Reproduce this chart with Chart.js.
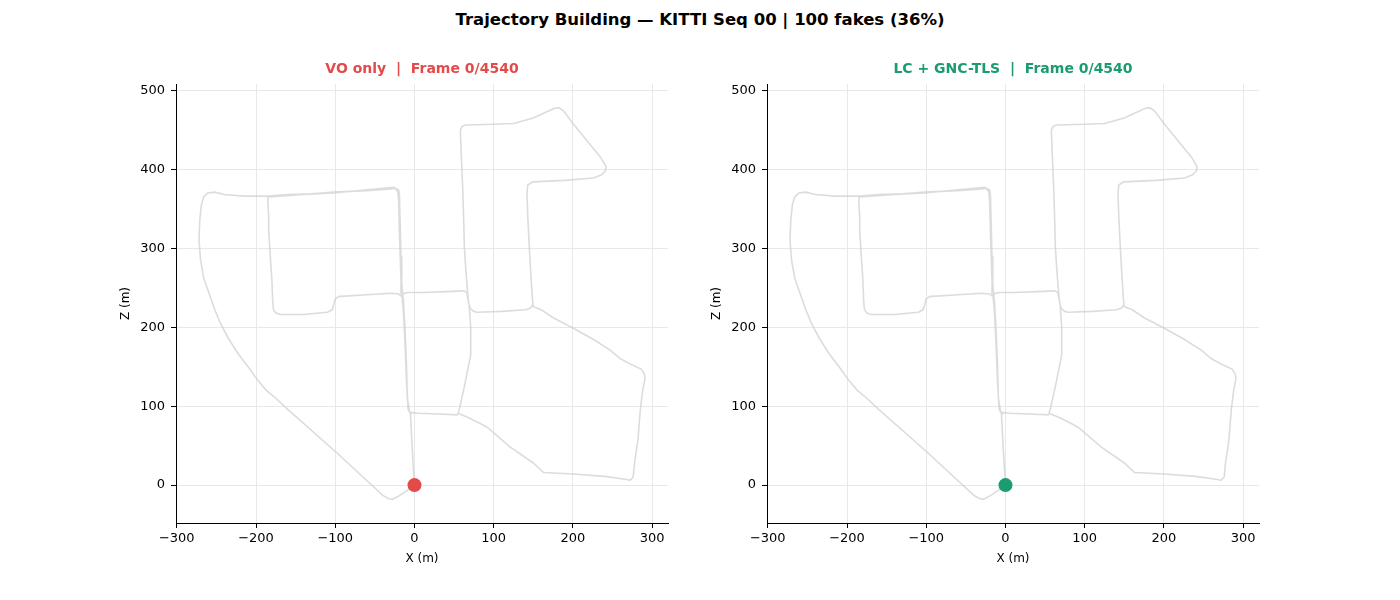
<!DOCTYPE html>
<html>
<head>
<meta charset="utf-8">
<script src="https://cdn.jsdelivr.net/npm/chart.js@4.4.0/dist/chart.umd.min.js"></script>
<style>
  body { margin: 0; background: #fff; width: 1400px; height: 600px; position: relative; overflow: hidden; }
  #sup { position: absolute; top: 10px; left: 0; width: 1400px; text-align: center;
         font: bold 16.5px "DejaVu Sans", sans-serif; color: #000; }
  canvas { position: absolute; top: 50px; }
  #c1 { left: 100px; }
  #c2 { left: 691px; }
</style>
</head>
<body>
<div id="sup">Trajectory Building — KITTI Seq 00 | 100 fakes (36%)</div>
<canvas id="c1" width="644" height="530"></canvas>
<canvas id="c2" width="644" height="530"></canvas>
<script>
const tramoInicio = [[55,89],[30,90],[5,91],[-4,92],[-5,88],[-3,50],[-1,15],[0,0]];
const tramoArco = [[-8,-6],[-20,-14],[-28,-18],[-33,-17],[-40,-13],[-97,40],[-160,96],[-175,110],
  [-187,120],[-198,133],[-210,150],[-223,167],[-235,186],[-245,205],[-252,222],[-260,245],[-266,262],
  [-270,285],[-272,310],[-271,335],[-269,355],[-266,365],[-261,370],[-252,371]];
const tramoNorte = [[-240,368],[-215,366],[-198,366],[-185,366],[-160,368],[-130,369],[-102,371],
  [-60,373],[-30,375],[-24,376],[-20,374],[-19,368],[-18,330],[-17,290],[-16,255],[-15,242],
  [-14,235],[-12,200],[-10,150],[-9,110],[-7,98],[-6,92],[-8,96],[-10,130],[-12,180],[-14,220],
  [-16,243],[-17,260],[-19,320],[-20,360],[-21,372],[-26,377],[-60,374],[-102,370],[-140,368],[-185,365]];
const tramoCajaIzq = [[-185,358],[-184,340],[-184,323],[-182,290],[-180,260],[-179,234],[-178,222],
  [-175,218],[-169,216],[-140,216],[-110,219],[-104,222],[-102,228],[-100,236],[-95,239],[-93,239],
  [-60,241],[-30,243],[-20,242],[-16,239],[-13,243],[-8,244],[10,244],[40,245],[62,246],[66,244],[67,238]];
const tramoSur = [[69,228],[71,200],[71,165],[63,125],[57,98],[55,91],[67,86],[83,78],[92,73],[121,48],
  [150,28],[163,16],[200,14],[240,11],[268,7],[272,6],[276,10],[278,30],[282,57],[285,95],[288,120],
  [291,135],[290,141],[286,147],[275,152],[260,160],[247,171],[225,185],[200,199],[175,212],[160,222],
  [155,224],[150,226]];
const tramoEste = [[149,234],[147,265],[145,300],[143,340],[142,370],[143,380],[149,384],[190,386],
  [226,389],[236,393],[241,398],[242,403],[238,410],[235,415],[200,458],[188,474],[182,478],[176,477],
  [165,472],[150,465],[125,458],[100,457],[64,456],[60,454],[58,450],[58,446],[59,420],[61,373],
  [62,340],[63,301],[65,270],[67,245],[68,235],[69,228],[71,223],[75,220],[79,219],[110,220],[140,222],
  [146,224],[149,228]];

const trayectoria = [].concat(tramoInicio, tramoArco, tramoNorte, tramoCajaIzq, tramoSur, tramoEste);
const posicionActual = [[0, 0]];

const limitesX = [-301, 320];
const limitesZ = [-48, 508];
const pasoTicks = 100;

const paneles = [
  { id: 'c1', titulo: 'VO only  |  Frame 0/4540', color: '#e34a4a' },
  { id: 'c2', titulo: 'LC + GNC-TLS  |  Frame 0/4540', color: '#1b9c6f' }
];

const fuente = '"DejaVu Sans", sans-serif';
const menos = v => String(v).replace('-', '\u2212');

function crearPanel(panel) {
  const ctx = document.getElementById(panel.id).getContext('2d');
  return new Chart(ctx, {
    type: 'scatter',
    data: {
      datasets: [
        {
          data: posicionActual.map(p => ({ x: p[0], y: p[1] })),
          backgroundColor: panel.color, borderWidth: 0, pointRadius: 7, order: 0
        },
        {
          data: trayectoria.map(p => ({ x: p[0], y: p[1] })),
          showLine: true, borderColor: 'rgba(205,205,205,0.7)', borderWidth: 1.6,
          pointRadius: 0, tension: 0, order: 1
        }
      ]
    },
    options: {
      responsive: false,
      animation: false,
      events: [],
      layout: { padding: { left: 0, right: 76, top: 0, bottom: 0 } },
      plugins: {
        legend: { display: false },
        tooltip: { enabled: false },
        title: {
          display: true, text: panel.titulo, color: panel.color, fullSize: false,
          font: { family: fuente, size: 14, weight: 'bold' },
          padding: { top: 11, bottom: 6.2 }
        }
      },
      scales: {
        x: {
          type: 'linear', min: limitesX[0], max: limitesX[1],
          afterFit: s => { s.height = 57; },
          ticks: { stepSize: pasoTicks, includeBounds: false, callback: menos, color: '#000',
                   font: { family: fuente, size: 13 }, padding: 3, maxRotation: 0 },
          grid: { color: '#e8e8e8', lineWidth: 1, tickColor: '#000', tickLength: 5 },
          border: { color: '#000', width: 1 },
          title: { display: true, text: 'X (m)', color: '#000', font: { family: fuente, size: 12 },
                   padding: { top: 0, bottom: 14 } }
        },
        y: {
          type: 'linear', min: limitesZ[0], max: limitesZ[1],
          afterFit: s => { s.width = 76; },
          ticks: { stepSize: pasoTicks, includeBounds: false, callback: menos, color: '#000',
                   font: { family: fuente, size: 13 }, padding: 6 },
          grid: { color: '#e8e8e8', lineWidth: 1, tickColor: '#000', tickLength: 5 },
          border: { color: '#000', width: 1 },
          title: { display: true, text: 'Z (m)', color: '#000', font: { family: fuente, size: 12 },
                   padding: { top: 19, bottom: 0 } }
        }
      }
    }
  });
}

paneles.forEach(crearPanel);
</script>
</body>
</html>
